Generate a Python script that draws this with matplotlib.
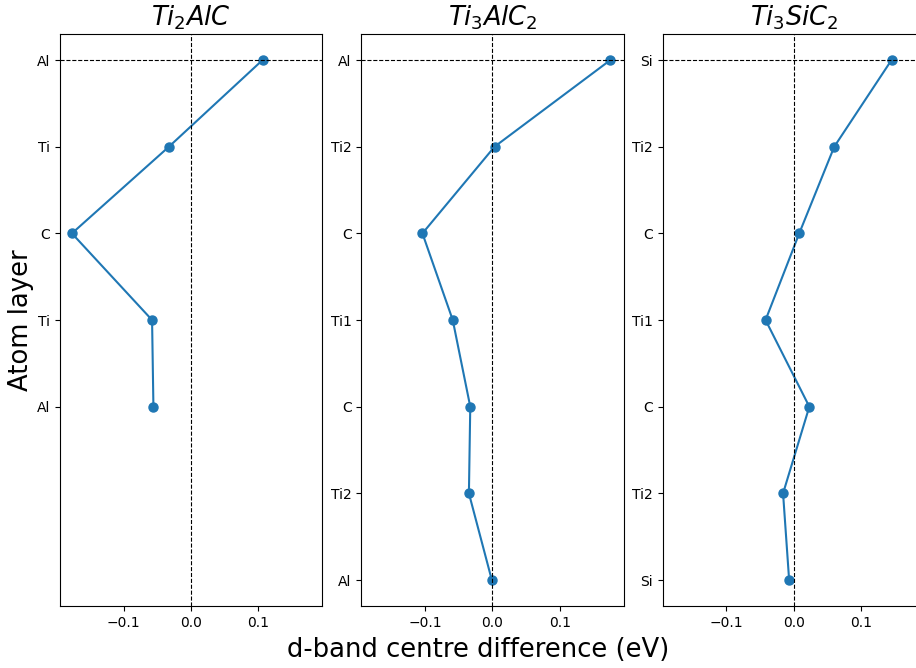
import matplotlib
matplotlib.use('Agg')
import matplotlib.pyplot as plt

# d-band centre difference (eV) per atom layer, read top to bottom
titles = ['$Ti_2AlC$', '$Ti_3AlC_2$', '$Ti_3SiC_2$']

layers_211 = ['Al', 'Ti', 'C', 'Ti', 'Al']
dband_211 = [0.106, -0.033, -0.177, -0.058, -0.056]

layers_312_al = ['Al', 'Ti2', 'C', 'Ti1', 'C', 'Ti2', 'Al']
dband_312_al = [0.175, 0.003, -0.104, -0.059, -0.033, -0.035, -0.001]

layers_312_si = ['Si', 'Ti2', 'C', 'Ti1', 'C', 'Ti2', 'Si']
dband_312_si = [0.145, 0.060, 0.008, -0.042, 0.023, -0.016, -0.007]

layers = [layers_211, layers_312_al, layers_312_si]
values = [dband_211, dband_312_al, dband_312_si]

xmax = max(abs(v) for vals in values for v in vals) * 1.1
nmax = max(len(l) for l in layers)

fig, axes = plt.subplots(1, 3, figsize=(9.16, 6.68), dpi=100)
fig.subplots_adjust(left=0.0655, right=1.0098, top=0.949, bottom=0.0928, wspace=0.149)

for ax, title, lay, vals in zip(axes, titles, layers, values):
    pos = list(range(len(lay)))
    ax.plot(vals, pos, 'o-', markersize=6.5)
    ax.axvline(0, color='k', linestyle='--', linewidth=0.8)
    ax.axhline(0, color='k', linestyle='--', linewidth=0.8)
    ax.set_yticks(pos)
    ax.set_yticklabels(lay)
    ax.set_ylim(nmax - 1 + 0.3, -0.3)
    ax.set_xlim(-xmax, xmax)
    ax.set_xticks([-0.1, 0.0, 0.1])
    ax.set_title(title, fontsize=18.5)

axes[0].set_ylabel('Atom layer', fontsize=18.6, labelpad=2)
fig.text(0.5224, 0.027, 'd-band centre difference (eV)', fontsize=18.6,
         ha='center', va='center')

plt.savefig('out.png', dpi=100)
